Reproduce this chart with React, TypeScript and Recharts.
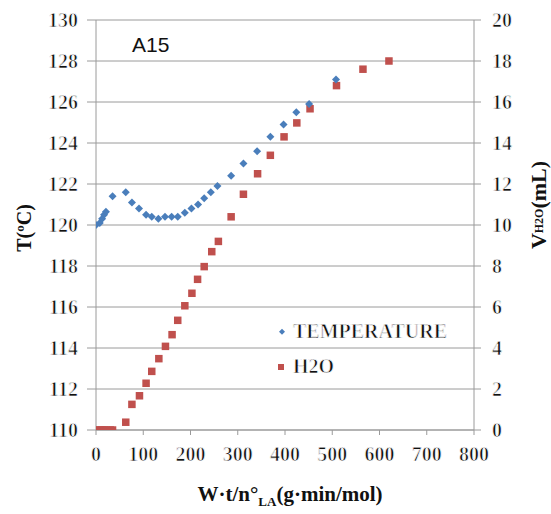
import React from 'react';
import { ScatterChart, Scatter, XAxis, YAxis, CartesianGrid, Legend } from 'recharts';

const tempX = [0, 8, 13, 17, 21, 35, 63, 76, 91, 106, 118, 132, 146, 160, 173, 188, 202, 216, 229, 243, 257, 286, 312, 341, 369, 397, 424, 451, 508];
const tempT = [120.0, 120.1, 120.3, 120.5, 120.65, 121.4, 121.6, 121.1, 120.8, 120.5, 120.4, 120.3, 120.4, 120.4, 120.4, 120.6, 120.8, 121.0, 121.3, 121.6, 121.9, 122.4, 123.0, 123.6, 124.3, 124.9, 125.5, 125.9, 127.1];

const h2oX = [0, 8, 13, 17, 21, 30, 35, 63, 76, 92, 106, 118, 133, 147, 161, 173, 188, 203, 215, 229, 245, 259, 286, 312, 342, 369, 398, 425, 453, 509, 565, 620];
const h2oV = [0, 0, 0, 0, 0, 0, 0, 0.38, 1.25, 1.67, 2.28, 2.86, 3.48, 4.08, 4.65, 5.35, 6.06, 6.67, 7.35, 7.97, 8.7, 9.2, 10.4, 11.5, 12.5, 13.4, 14.3, 14.98, 15.67, 16.8, 17.6, 18.0];

const xTicks = [0, 100, 200, 300, 400, 500, 600, 700, 800];
const tTicks = [110, 112, 114, 116, 118, 120, 122, 124, 126, 128, 130];
const vTicks = [0, 2, 4, 6, 8, 10, 12, 14, 16, 18, 20];

const seriesNames = ['TEMPERATURE', 'H2O'];
const panelLabel = 'A15';

const tempData = tempX.map((x, i) => ({ x, t: tempT[i] }));
const h2oData = h2oX.map((x, i) => ({ x, v: h2oV[i] }));

const BLUE = '#4A7EBB';
const RED = '#C0504D';
const GRID = '#9a9a9a';
const SERIF = 'Liberation Serif';

// regular-looking serif text (bold face thinned by a white outline)
const plainText = { fontFamily: SERIF, fontWeight: 'bold' as const, stroke: '#fff', strokeWidth: 0.75, fill: '#111' };

const Diamond = (props: any) => {
  const { cx, cy } = props;
  const r = 4;
  return <polygon points={`${cx},${cy - r} ${cx + r},${cy} ${cx},${cy + r} ${cx - r},${cy}`} fill={BLUE} />;
};

const Square = (props: any) => {
  const { cx, cy } = props;
  const s = 7.5;
  return <rect x={cx - s / 2} y={cy - s / 2} width={s} height={s} fill={RED} />;
};

const LegendContent = () => (
  <svg width={200} height={70} style={{ display: 'block' }}>
    <polygon points="6,9.7 9,12.7 6,15.7 3,12.7" fill={BLUE} />
    <text x={17} y={19} fontSize={20} {...plainText}>{seriesNames[0]}</text>
    <rect x={2} y={45} width={6} height={6} fill={RED} />
    <text x={17} y={54} fontSize={20} {...plainText}>{seriesNames[1]}</text>
  </svg>
);

const XTick = (props: any) => {
  const { x, y, payload } = props;
  return (
    <text x={x} y={y} dy="0.71em" textAnchor="middle" fontSize={20} {...plainText}>
      {payload.value}
    </text>
  );
};

const YTick = (props: any) => {
  const { x, y, payload, textAnchor } = props;
  return (
    <text x={x} y={y} dy="0.355em" textAnchor={textAnchor} fontSize={20} {...plainText}>
      {payload.value}
    </text>
  );
};

export default function App() {
  return (
    <div style={{ position: 'absolute', left: 0, top: 0, width: 551, height: 514, background: '#fff' }}>
      <ScatterChart width={551} height={514} margin={{ top: 20, right: 0, bottom: 0, left: 0 }}>
        <CartesianGrid yAxisId="T" vertical={false} stroke={GRID} strokeWidth={1} />
        <XAxis
          type="number"
          dataKey="x"
          domain={[0, 800]}
          ticks={xTicks}
          interval={0}
          height={84}
          tickSize={5}
          tickMargin={12}
          tick={XTick}
          stroke={GRID}
          tickLine={{ stroke: GRID }}
          axisLine={{ stroke: GRID }}
          allowDataOverflow
        />
        <YAxis
          yAxisId="T"
          type="number"
          dataKey="t"
          domain={[110, 130]}
          ticks={tTicks}
          interval={0}
          width={96}
          tickSize={9}
          tickMargin={9}
          tick={YTick}
          stroke={GRID}
          tickLine={{ stroke: GRID }}
          axisLine={{ stroke: GRID }}
          allowDataOverflow
        />
        <YAxis
          yAxisId="V"
          orientation="right"
          type="number"
          dataKey="v"
          domain={[0, 20]}
          ticks={vTicks}
          interval={0}
          width={77}
          tickSize={7}
          tickMargin={11}
          tick={YTick}
          stroke={GRID}
          tickLine={{ stroke: GRID }}
          axisLine={{ stroke: GRID }}
          allowDataOverflow
        />
        <Scatter name={seriesNames[1]} data={h2oData} yAxisId="V" shape={Square} isAnimationActive={false} />
        <Scatter name={seriesNames[0]} data={tempData} yAxisId="T" shape={Diamond} isAnimationActive={false} />
        <Legend
          layout="vertical"
          align="center"
          verticalAlign="middle"
          content={LegendContent}
          wrapperStyle={{ left: 276, top: 319, width: 200, height: 70 }}
        />
        <text x={132} y={52} fontFamily="Liberation Sans" fontSize={21} fill="#111">{panelLabel}</text>
        <text transform="translate(31,228) rotate(-90)" textAnchor="middle" fontFamily={SERIF} fontSize={20} fontWeight="bold" fill="#111">T(ºC)</text>
        <text transform="translate(546,205) rotate(-90)" textAnchor="middle" fontFamily={SERIF} fontSize={22} fontWeight="bold" fill="#111">
          V<tspan fontSize={12} dy={-3}>H2O</tspan><tspan dy={3}>(mL)</tspan>
        </text>
        <text x={290} y={501} textAnchor="middle" fontFamily={SERIF} fontSize={21} fontWeight="bold" fill="#111">
          W·t/n°<tspan fontSize={13} dy={5}>LA</tspan><tspan dy={-5}>(g·min/mol)</tspan>
        </text>
      </ScatterChart>
    </div>
  );
}
